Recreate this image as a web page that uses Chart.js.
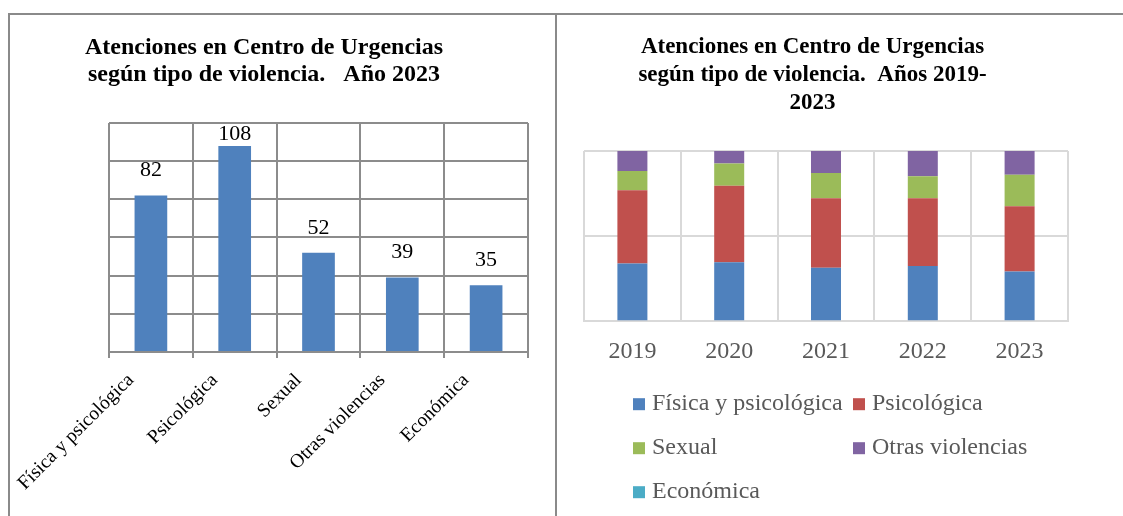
<!DOCTYPE html>
<html lang="es">
<head>
<meta charset="utf-8">
<title>Atenciones en Centro de Urgencias</title>
<script src="https://cdn.jsdelivr.net/npm/chart.js@4.4.0/dist/chart.umd.min.js"></script>
<style>
  html, body { margin: 0; padding: 0; background: #fff; }
  #page { position: relative; width: 1123px; height: 516px; overflow: hidden; }
  .line { position: absolute; background: #8a8a8a; }
  #left { position: absolute; left: 0; top: 0; width: 530px; height: 516px; }
  #right { position: absolute; left: 557px; top: 0; width: 513px; height: 516px; }
</style>
</head>
<body>
<div id="page">
  <div class="line" style="left:8px; top:13px; width:1115px; height:2px;"></div>
  <div class="line" style="left:8px; top:13px; width:2px; height:503px;"></div>
  <div class="line" style="left:555px; top:13px; width:2px; height:503px;"></div>
  <div id="left"><canvas id="barChart"></canvas></div>
  <div id="right"><canvas id="stackChart"></canvas></div>
</div>
<script>
  // Datos
  const tipos = ["Física y psicológica", "Psicológica", "Sexual", "Otras violencias", "Económica"];
  const atenciones2023 = [82, 108, 52, 39, 35];

  const anios = ["2019", "2020", "2021", "2022", "2023"];
  // porcentaje sobre el total de cada año
  const pctFisica = [33.9, 34.7, 31.4, 32.4, 29.2];
  const pctPsicologica = [43.0, 44.8, 40.8, 39.8, 38.4];
  const pctSexual = [11.3, 13.2, 14.8, 13.0, 18.5];
  const pctOtras = [11.8, 7.3, 13.0, 14.8, 13.9];
  const pctEconomica = [0, 0, 0, 0, 0];

  const colores = ['#4F81BD', '#C0504D', '#9BBB59', '#8064A2', '#4BACC6'];
  const serif = '"Liberation Serif", "Times New Roman", serif';

  // etiquetas de valor encima de las barras
  const valueLabels = {
    id: 'valueLabels',
    afterDatasetsDraw(chart) {
      const ctx = chart.ctx;
      const meta = chart.getDatasetMeta(0);
      ctx.save();
      ctx.font = '22px ' + serif;
      ctx.fillStyle = '#000';
      ctx.textAlign = 'center';
      ctx.textBaseline = 'middle';
      meta.data.forEach((bar, i) => {
        const y = Math.max(bar.y - 25, chart.chartArea.top + 11);
        ctx.fillText(chart.data.datasets[0].data[i], bar.x, y);
      });
      ctx.restore();
    }
  };

  // leyenda en dos columnas, como en Excel
  const legendGrid = {
    id: 'legendGrid',
    afterDraw(chart) {
      const ctx = chart.ctx;
      const base = chart.chartArea.bottom + 89;
      ctx.save();
      ctx.font = '24px ' + serif;
      ctx.textBaseline = 'alphabetic';
      ctx.textAlign = 'left';
      chart.data.datasets.forEach((ds, i) => {
        const x = 76 + (i % 2) * 220;
        const y = base + Math.floor(i / 2) * 44;
        ctx.fillStyle = ds.backgroundColor;
        ctx.fillRect(x, y - 12, 12, 12);
        ctx.fillStyle = '#595959';
        ctx.fillText(ds.label, x + 19, y);
      });
      ctx.restore();
    }
  };

  new Chart(document.getElementById('barChart'), {
    type: 'bar',
    data: {
      labels: tipos,
      datasets: [{
        label: 'Atenciones 2023',
        data: atenciones2023,
        backgroundColor: '#4F81BD',
        categoryPercentage: 1,
        barPercentage: 0.39
      }]
    },
    options: {
      responsive: true,
      maintainAspectRatio: false,
      animation: false,
      layout: { padding: { left: 0, right: 2, bottom: 10 } },
      plugins: {
        legend: { display: false },
        tooltip: { enabled: false },
        title: {
          display: true,
          text: ['Atenciones en Centro de Urgencias', 'según tipo de violencia.   Año 2023'],
          color: '#000',
          font: { family: serif, size: 24, weight: 'bold', lineHeight: 1.125 },
          padding: { top: 34, bottom: 35 }
        }
      },
      scales: {
        x: {
          grid: { color: '#8c8c8c', lineWidth: 2, tickLength: 6, offset: true },
          border: { color: '#8c8c8c', width: 2 },
          ticks: {
            color: '#000',
            font: { family: serif, size: 19.5 },
            minRotation: 45,
            maxRotation: 45,
            padding: 11,
            labelOffset: -20
          }
        },
        y: {
          min: 0,
          max: 120,
          afterFit(scale) { scale.width = 109; },
          ticks: { display: false, stepSize: 20 },
          grid: { color: '#8c8c8c', lineWidth: 2, drawTicks: false },
          border: { display: false }
        }
      }
    },
    plugins: [valueLabels]
  });

  const series = [pctFisica, pctPsicologica, pctSexual, pctOtras, pctEconomica];

  new Chart(document.getElementById('stackChart'), {
    type: 'bar',
    data: {
      labels: anios,
      datasets: series.map((d, i) => ({
        label: tipos[i],
        data: d,
        backgroundColor: colores[i],
        categoryPercentage: 1,
        barPercentage: 0.31
      }))
    },
    options: {
      responsive: true,
      maintainAspectRatio: false,
      animation: false,
      layout: { padding: { left: 0, right: 2, bottom: 134 } },
      plugins: {
        legend: { display: false },
        tooltip: { enabled: false },
        title: {
          display: true,
          text: ['Atenciones en Centro de Urgencias', 'según tipo de violencia.  Años 2019-', '2023'],
          color: '#000',
          font: { family: serif, size: 23, weight: 'bold', lineHeight: 1.217 },
          padding: { top: 33, bottom: 34 }
        }
      },
      scales: {
        x: {
          stacked: true,
          grid: { color: '#d9d9d9', lineWidth: 2, drawTicks: false, offset: true },
          border: { color: '#d9d9d9', width: 2 },
          ticks: { color: '#595959', font: { family: serif, size: 24 }, padding: 16 }
        },
        y: {
          stacked: true,
          min: 0,
          max: 100,
          afterFit(scale) { scale.width = 27; },
          ticks: { display: false, stepSize: 50 },
          grid: { color: '#d9d9d9', lineWidth: 2, drawTicks: false },
          border: { display: false }
        }
      }
    },
    plugins: [legendGrid]
  });
</script>
</body>
</html>
